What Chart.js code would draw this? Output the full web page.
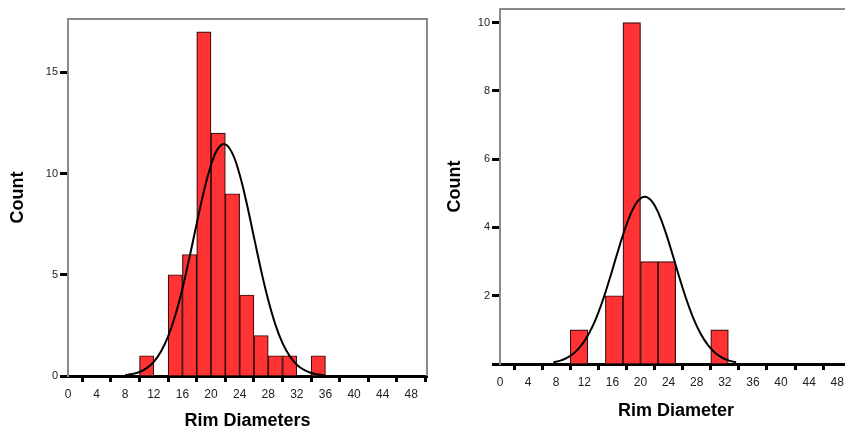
<!DOCTYPE html>
<html>
<head>
<meta charset="utf-8">
<script src="https://cdn.jsdelivr.net/npm/chart.js@4/dist/chart.umd.min.js"></script>
<style>
  html, body { margin: 0; padding: 0; background: #fff; overflow: hidden; }
  #wrap { position: relative; width: 845px; height: 432px; overflow: hidden; }
  #leftChart { position: absolute; left: 0; top: 0; }
  #rightChart { position: absolute; left: 430px; top: 0; }
</style>
</head>
<body>
<div id="wrap">
  <canvas id="leftChart" width="430" height="432"></canvas>
  <canvas id="rightChart" width="430" height="432"></canvas>
</div>
<script>
// left histogram: rim diameters, bins of 2
var leftBinCenters = [11, 15, 17, 19, 21, 23, 25, 27, 29, 31, 35];
var leftCounts     = [1, 5, 6, 17, 12, 9, 4, 2, 1, 1, 1];
// fitted normal curve
var leftCurveX = [8, 9, 10, 11, 12, 13, 14, 15, 16, 17, 18, 19, 20, 21, 22, 23, 24, 25, 26, 27, 28, 29, 30, 31, 32, 33, 34, 35, 36];
var leftCurveY = [0.05, 0.1, 0.2, 0.39, 0.7, 1.21, 1.96, 2.99, 4.31, 5.87, 7.53, 9.12, 10.42, 11.24, 11.44, 10.98, 9.95, 8.51, 6.86, 5.22, 3.75, 2.54, 1.62, 0.98, 0.56, 0.3, 0.15, 0.07, 0.03];

// right histogram: rim diameter, bins of 2.5
var rightBinCenters = [11.25, 16.25, 18.75, 21.25, 23.75, 31.25];
var rightCounts     = [1, 2, 10, 3, 3, 1];
var rightCurveX = [7.6, 8.6, 9.6, 10.6, 11.6, 12.6, 13.6, 14.6, 15.6, 16.6, 17.6, 18.6, 19.6, 20.6, 21.6, 22.6, 23.6, 24.6, 25.6, 26.6, 27.6, 28.6, 29.6, 30.6, 31.6, 32.6, 33.6];
var rightCurveY = [0.05, 0.1, 0.19, 0.33, 0.55, 0.87, 1.3, 1.85, 2.49, 3.18, 3.84, 4.4, 4.77, 4.9, 4.77, 4.4, 3.84, 3.18, 2.49, 1.85, 1.3, 0.87, 0.55, 0.33, 0.19, 0.1, 0.05];

var xTickStep = 4;

function pairs(xs, ys) {
    var out = [];
    for (var i = 0; i < xs.length; i++) out.push({ x: xs[i], y: ys[i] });
    return out;
}

// gray frame on top and right of the plot area
var framePlugin = {
    id: 'frame',
    afterDraw: function(chart) {
        var a = chart.chartArea, ctx = chart.ctx;
        ctx.save();
        ctx.strokeStyle = '#8a8a8a';
        ctx.lineWidth = 2;
        ctx.beginPath();
        ctx.moveTo(a.left - 1, a.top);
        ctx.lineTo(a.right, a.top);
        ctx.lineTo(a.right, a.bottom);
        ctx.stroke();
        ctx.restore();
    }
};

function makeHist(id, o) {
    new Chart(document.getElementById(id).getContext('2d'), {
        data: {
            datasets: [
                { type: 'line', data: pairs(o.curveX, o.curveY), borderColor: '#000', borderWidth: 2,
                  pointRadius: 0, tension: 0.4, fill: false, order: 0 },
                { type: 'bar', data: pairs(o.binX, o.counts), backgroundColor: '#ff3333',
                  borderColor: '#3a0c0c', borderWidth: 1.2, borderSkipped: 'bottom',
                  barPercentage: 1, categoryPercentage: 1, grouped: false, order: 1 }
            ]
        },
        options: {
            responsive: false,
            animation: false,
            layout: { padding: o.pad },
            plugins: { legend: { display: false }, tooltip: { enabled: false } },
            scales: {
                x: {
                    type: 'linear', min: 0, max: o.xMax, offset: false,
                    afterFit: function(s) { s.height = o.xAxisH; },
                    grid: { drawOnChartArea: false, tickLength: 6, tickWidth: 3, tickColor: '#000' },
                    border: { color: '#000', width: 3 },
                    ticks: { stepSize: xTickStep, includeBounds: false, padding: 5, color: '#222',
                             font: { family: 'Liberation Sans', size: 12 } },
                    title: { display: true, text: o.xTitle, color: '#000',
                             padding: { top: 0, bottom: o.xTitlePad },
                             font: { family: 'Liberation Sans', size: 18, weight: 'bold' } }
                },
                y: {
                    min: 0, max: o.yMax,
                    afterFit: function(s) { s.width = o.yAxisW; },
                    grid: { drawOnChartArea: false, tickLength: 8, tickWidth: 3, tickColor: '#000' },
                    border: { color: '#8a8a8a', width: 2 },
                    ticks: { stepSize: o.yStep, includeBounds: false, padding: 2, color: '#222',
                             font: { family: 'Liberation Sans', size: 11 },
                             callback: function(v) { return (v === 0 && !o.showZero) ? '' : v; } },
                    title: { display: true, text: 'Count', color: '#000',
                             padding: { top: o.yTitlePad, bottom: 0 },
                             font: { family: 'Liberation Sans', size: 18, weight: 'bold' } }
                }
            }
        },
        plugins: [framePlugin]
    });
}

makeHist('leftChart', {
    binX: leftBinCenters, counts: leftCounts, curveX: leftCurveX, curveY: leftCurveY,
    xMax: 50.2, yMax: 17.63, yStep: 5, showZero: true,
    xTitle: 'Rim Diameters',
    pad: { left: 0, top: 19, right: 3, bottom: 0 },
    xAxisH: 56, yAxisW: 68, xTitlePad: 0, yTitlePad: 7
});

makeHist('rightChart', {
    binX: rightBinCenters, counts: rightCounts, curveX: rightCurveX, curveY: rightCurveY,
    xMax: 50.1, yMax: 10.4, yStep: 2, showZero: false,
    xTitle: 'Rim Diameter',
    pad: { left: 0, top: 9, right: 8, bottom: 0 },
    xAxisH: 68, yAxisW: 70, xTitlePad: 10, yTitlePad: 14
});
</script>
</body>
</html>
